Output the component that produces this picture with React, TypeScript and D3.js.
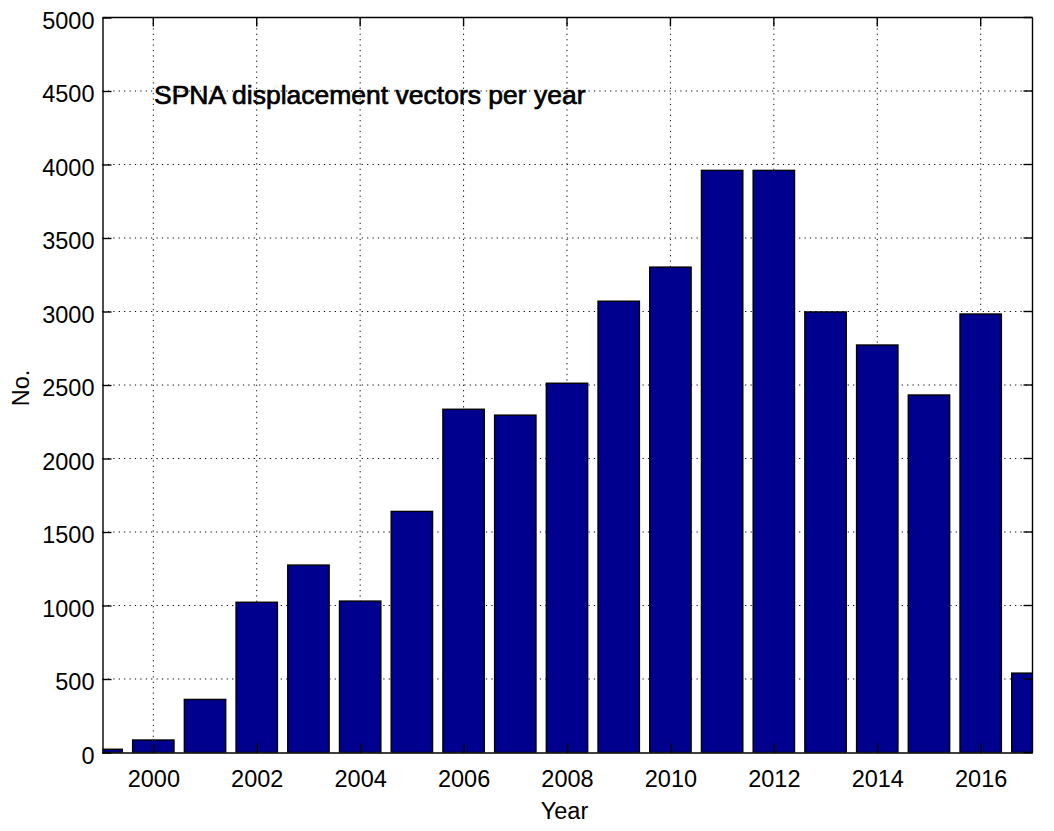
import React, { useEffect, useRef } from "react";
import * as d3 from "d3";

const years = [1999, 2000, 2001, 2002, 2003, 2004, 2005, 2006, 2007, 2008, 2009, 2010, 2011, 2012, 2013, 2014, 2015, 2016, 2017];
const counts = [22, 85, 361, 1022, 1275, 1030, 1640, 2335, 2295, 2512, 3070, 3302, 3960, 3960, 2997, 2772, 2432, 2983, 540];
const xTicks = [2000, 2002, 2004, 2006, 2008, 2010, 2012, 2014, 2016];
const yTicks = [0, 500, 1000, 1500, 2000, 2500, 3000, 3500, 4000, 4500, 5000];

const FONT = "'Liberation Sans', Arial, sans-serif";

const App: React.FC = () => {
  const svgRef = useRef<SVGSVGElement>(null);

  useEffect(() => {
    if (!svgRef.current) return;

    const width = 1054;
    const height = 831;
    const margin = { top: 17.5, right: 21.5, bottom: 78.5, left: 102.5 };

    const svg = d3.select(svgRef.current);
    svg.selectAll("*").remove();
    svg.attr("width", width).attr("height", height);

    const innerW = width - margin.left - margin.right;
    const innerH = height - margin.top - margin.bottom;

    const x = d3.scaleLinear().domain([1999, 2017]).range([-0.9, innerW - 0.1]);
    const y = d3.scaleLinear().domain([0, 5000]).range([innerH, 0]);

    svg
      .append("defs")
      .append("clipPath")
      .attr("id", "plot-clip")
      .append("rect")
      .attr("width", innerW)
      .attr("height", innerH);

    const g = svg
      .append("g")
      .attr("transform", `translate(${margin.left},${margin.top})`);

    // dotted grid, under the bars
    g.selectAll(".vgrid")
      .data(xTicks)
      .enter()
      .append("line")
      .attr("x1", d => x(d))
      .attr("x2", d => x(d))
      .attr("y1", 0)
      .attr("y2", innerH)
      .attr("stroke", "#000")
      .attr("stroke-width", 1)
      .attr("stroke-dasharray", "1.2,4.2");

    g.selectAll(".hgrid")
      .data(yTicks.slice(1, -1))
      .enter()
      .append("line")
      .attr("x1", 0)
      .attr("x2", innerW)
      .attr("y1", d => y(d))
      .attr("y2", d => y(d))
      .attr("stroke", "#000")
      .attr("stroke-width", 1)
      .attr("stroke-dasharray", "1.2,4.2");

    // BARS
    g.append("g")
      .attr("clip-path", "url(#plot-clip)")
      .selectAll("rect")
      .data(years)
      .enter()
      .append("rect")
      .attr("x", d => x(d - 0.4))
      .attr("width", d => x(d + 0.4) - x(d - 0.4))
      .attr("y", (d, i) => y(counts[i]))
      .attr("height", (d, i) => innerH - y(counts[i]))
      .attr("fill", "#00008f")
      .attr("stroke", "#000")
      .attr("stroke-width", 1.4);

    // AXES
    const xAxis = g
      .append("g")
      .attr("transform", `translate(0,${innerH})`)
      .call(
        d3.axisBottom(x)
          .tickValues(xTicks)
          .tickFormat(d3.format("d"))
          .tickSizeInner(-9)
          .tickSizeOuter(0)
          .tickPadding(18)
      );

    const yAxis = g.append("g").call(
      d3.axisLeft(y)
        .tickValues(yTicks)
        .tickFormat(d3.format("d"))
        .tickSizeInner(-9)
        .tickSizeOuter(0)
        .tickPadding(8)
    );

    [xAxis, yAxis].forEach(a => {
      a.selectAll("path,line").attr("stroke", "#000").attr("stroke-width", 1.4);
      a.selectAll("text")
        .attr("fill", "#000")
        .style("font-family", FONT)
        .style("font-size", "23.5px");
    });
    yAxis.selectAll("text").attr("dy", "0.46em");

    // top and right sides of the box, with their ticks
    g.append("line")
      .attr("x1", 0)
      .attr("x2", innerW)
      .attr("y1", 0)
      .attr("y2", 0)
      .attr("stroke", "#000")
      .attr("stroke-width", 1.4);
    g.append("line")
      .attr("x1", innerW)
      .attr("x2", innerW)
      .attr("y1", 0)
      .attr("y2", innerH)
      .attr("stroke", "#000")
      .attr("stroke-width", 1.4);

    g.selectAll(".top-tick")
      .data(xTicks)
      .enter()
      .append("line")
      .attr("x1", d => x(d))
      .attr("x2", d => x(d))
      .attr("y1", 0)
      .attr("y2", 9)
      .attr("stroke", "#000")
      .attr("stroke-width", 1.4);

    g.selectAll(".right-tick")
      .data(yTicks)
      .enter()
      .append("line")
      .attr("x1", innerW - 9)
      .attr("x2", innerW)
      .attr("y1", d => y(d))
      .attr("y2", d => y(d))
      .attr("stroke", "#000")
      .attr("stroke-width", 1.4);

    // LABELS
    svg
      .append("text")
      .attr("x", margin.left + innerW / 2 - 3)
      .attr("y", 819)
      .attr("text-anchor", "middle")
      .style("font-family", FONT)
      .style("font-size", "23.5px")
      .text("Year");

    svg
      .append("text")
      .attr("transform", "translate(29,388) rotate(-90)")
      .attr("text-anchor", "middle")
      .style("font-family", FONT)
      .style("font-size", "23.5px")
      .text("No.");

    svg
      .append("text")
      .attr("x", 154)
      .attr("y", 103.5)
      .style("font-family", FONT)
      .style("font-size", "26.5px")
      .style("stroke", "#000")
      .style("stroke-width", "0.7px")
      .text("SPNA displacement vectors per year");
  }, []);

  return (
    <svg
      ref={svgRef}
      style={{ position: "absolute", left: 0, top: 0, background: "#fff" }}
    ></svg>
  );
};

export default App;
